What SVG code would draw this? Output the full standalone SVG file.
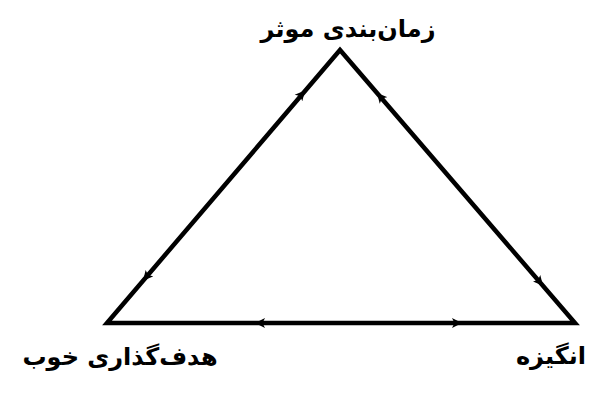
<svg xmlns="http://www.w3.org/2000/svg" width="600" height="400" viewBox="0 0 600 400">
  <style>
    .edge { fill: none; stroke: #000; stroke-width: 4.5; stroke-linejoin: miter; }
    .half { fill: none; stroke: none; }
    .lbl { font-family: "DejaVu Sans", "Noto Sans", sans-serif; font-weight: bold; font-size: 24px; fill: #000; text-anchor: middle; }
  </style>
  <defs>
    <marker id="arr" viewBox="0 0 10 10" refX="10" refY="5" markerWidth="10" markerHeight="11" markerUnits="userSpaceOnUse" orient="auto">
      <path d="M0,0 L10,5 L0,10 L2.5,5 Z" fill="#000"/>
    </marker>
  </defs>
  <g id="connectors">
    <polygon class="edge" points="107,323 340,50 575,323"/>
    <path class="half" marker-mid="url(#arr)" d="M223.5,186.5 L305,90.4 L340,50"/>
    <path class="half" marker-mid="url(#arr)" d="M223.5,186.5 L143,280.8 L107,323"/>
    <path class="half" marker-mid="url(#arr)" d="M457.5,186.5 L377,92.9 L340,50"/>
    <path class="half" marker-mid="url(#arr)" d="M457.5,186.5 L543,285.8 L575,323"/>
    <path class="half" marker-mid="url(#arr)" d="M341,323 L255,323 L107,323"/>
    <path class="half" marker-mid="url(#arr)" d="M341,323 L462,323 L575,323"/>
  </g>
  <g id="node-top">
    <text class="lbl" x="348" y="37">زمان‌بندی موثر</text>
  </g>
  <g id="node-left">
    <text class="lbl" x="120" y="365">هدف‌گذاری خوب</text>
  </g>
  <g id="node-right">
    <text class="lbl" x="551" y="364">انگیزه</text>
  </g>
</svg>
